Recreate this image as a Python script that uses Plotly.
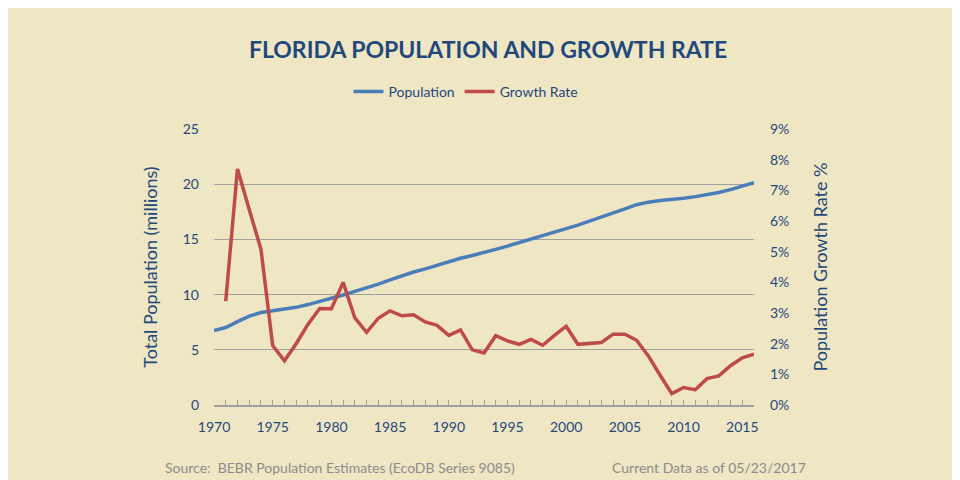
import plotly.graph_objects as go

# Florida population (millions) and annual growth rate (%)
years = list(range(1970, 2017))
population = [6.75, 7.02, 7.55, 8.05, 8.38, 8.53, 8.70, 8.85, 9.10, 9.38,
              9.62, 9.97, 10.29, 10.58, 10.95, 11.33, 11.70, 12.05, 12.33, 12.68,
              12.98, 13.30, 13.55, 13.80, 14.10, 14.40, 14.70, 15.00, 15.30, 15.62,
              15.98, 16.30, 16.65, 17.00, 17.40, 17.78, 18.15, 18.38, 18.52, 18.60,
              18.73, 18.88, 19.05, 19.25, 19.52, 19.82, 20.15]
growth_rate = [None, 3.39, 7.70, 6.38, 5.08, 1.94, 1.44, 2.00, 2.63, 3.15,
               3.14, 4.00, 2.84, 2.37, 2.83, 3.07, 2.91, 2.94, 2.71, 2.60,
               2.27, 2.45, 1.80, 1.70, 2.26, 2.09, 1.98, 2.14, 1.95, 2.27,
               2.57, 1.98, 2.00, 2.04, 2.31, 2.31, 2.11, 1.60, 0.97, 0.37,
               0.57, 0.50, 0.86, 0.95, 1.28, 1.54, 1.66]

navy = '#1F497D'
bg = '#EFE6C4'
font = 'Lato'

fig = go.Figure()

fig.add_trace(go.Scatter(
    x=years, y=population, name='Population', mode='lines',
    line=dict(color='#4A7EBB', width=3.5), yaxis='y'
))
fig.add_trace(go.Scatter(
    x=years, y=growth_rate, name='Growth Rate', mode='lines',
    line=dict(color='#BE4B48', width=3.5), yaxis='y2', connectgaps=False
))

fig.update_layout(
    width=960, height=480,
    paper_bgcolor=bg, plot_bgcolor=bg,
    margin=dict(l=206, r=214, t=109, b=83),
    font=dict(family=font, color=navy, size=14),
    title=dict(text='<b>FLORIDA POPULATION AND GROWTH RATE</b>',
               font=dict(family=font, size=23, color=navy),
               x=0.5, xref='container', xanchor='center',
               y=1 - 42 / 480, yref='container', yanchor='middle'),
    legend=dict(orientation='h', x=458 / 960, xref='container', xanchor='center',
                y=1 - 84 / 480, yref='container', yanchor='middle',
                font=dict(size=14, color=navy), itemwidth=30,
                bgcolor='rgba(0,0,0,0)'),
    showlegend=True,
    xaxis=dict(range=[1970, 2016], tick0=1970, dtick=5, showgrid=False,
               showline=True, linecolor='#A0A0A0', linewidth=1.5,
               ticks='inside', ticklen=5, tickcolor='#A0A0A0',
               minor=dict(dtick=1, ticks='inside', ticklen=5, tickcolor='#A0A0A0'),
               tickfont=dict(size=14, color=navy), ticklabelstandoff=8,
               zeroline=False),
    yaxis=dict(range=[0, 25], dtick=5, showgrid=True, gridcolor='#A0A0A0',
               gridwidth=1, zeroline=False, showline=False,
               tickfont=dict(size=14, color=navy), ticklabelstandoff=14,
               title=dict(text='Total Population (millions)', standoff=20,
                          font=dict(size=18, color=navy))),
    yaxis2=dict(range=[0, 9], dtick=1, ticksuffix='%', overlaying='y', side='right',
                showgrid=False, zeroline=False, showline=False,
                tickfont=dict(size=14, color=navy), ticklabelstandoff=15,
                title=dict(text='Population Growth Rate %', standoff=26,
                           font=dict(size=18, color=navy))),
)

fig.add_annotation(text='Source:  BEBR Population Estimates (EcoDB Series 9085)',
                   xref='paper', yref='paper', x=(155 - 206) / 540, y=(397 - 462) / 288,
                   xanchor='left', yanchor='middle', showarrow=False,
                   font=dict(size=14, color='#8C8C8C'))
fig.add_annotation(text='Current Data as of 05/23/2017',
                   xref='paper', yref='paper', x=(800 - 206) / 540, y=(397 - 462) / 288,
                   xanchor='right', yanchor='middle', showarrow=False,
                   font=dict(size=14, color='#8C8C8C'))

fig.write_html('out.html')
